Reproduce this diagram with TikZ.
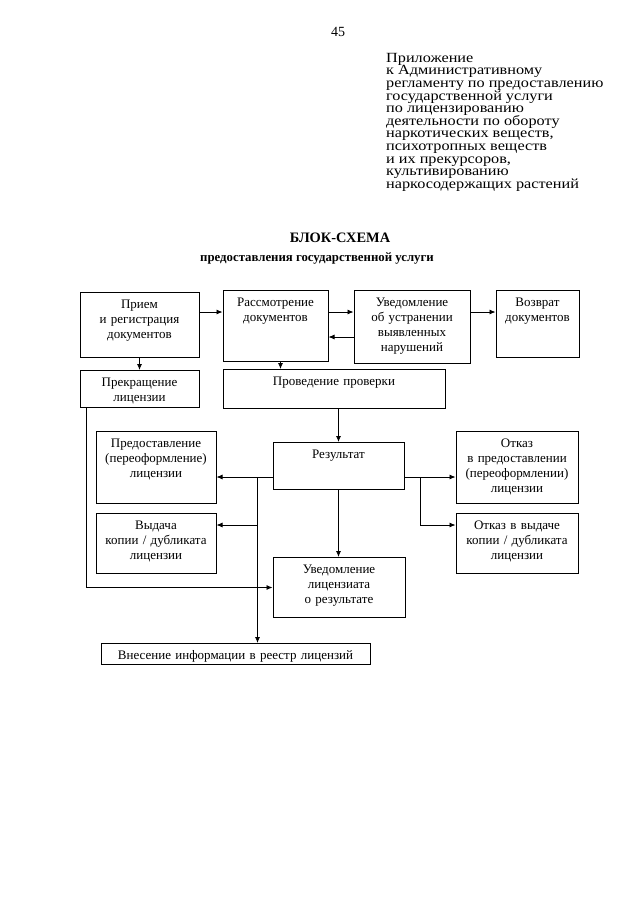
\documentclass[tikz,border=0pt]{standalone}
\usepackage{fontspec}
\setmainfont{Liberation Serif}
\newfontfamily\appfont[FakeStretch=1.16]{Liberation Serif}
\newcommand{\appsize}{\appfont\fontsize{14}{12.6}\selectfont\lineskiplimit=-20pt\relax}
\usetikzlibrary{arrows.meta}

\begin{document}
\begin{tikzpicture}[x=1pt, y=-1pt,
    blk/.style={draw, line width=1pt, align=center, anchor=north, inner xsep=0pt, inner ysep=3pt,
        text height=12.5pt, font=\fontsize{13}{15.2}\selectfont},
    arr/.style={line width=0.8pt, -{Latex[length=6pt, width=5pt]}}]
    \useasboundingbox (0,0) rectangle (640,905);
    % Page number and heading
    \node[font=\fontsize{14}{14}\selectfont] (pg) at (338,32) {45};
    \node[anchor=north west, align=left, inner sep=0pt, font=\appsize] (app) at (386,53)
        {Приложение\\к Административному\\регламенту по предоставлению\\государственной услуги\\по лицензированию\\деятельности по обороту\\наркотических веществ,\\психотропных веществ\\и их прекурсоров,\\культивированию\\наркосодержащих растений};
    \node[font=\fontsize{14.4}{14}\bfseries\selectfont] (ttl) at (340,238) {БЛОК-СХЕМА};
    \node[font=\fontsize{12.8}{14}\bfseries\selectfont] (sub) at (317,258) {предоставления государственной услуги};
    % First row
    \node[blk, text width=119pt, text depth=46.5pt] (prm) at (139.5,292) {Прием\\и регистрация\\документов};
    \node[blk, text width=105pt, text depth=52.5pt] (rsm) at (275.5,290) {Рассмотрение\\документов};
    \node[blk, text width=116pt, text depth=54.5pt] (uvd) at (412,290) {Уведомление\\об устранении\\выявленных\\нарушений};
    \node[blk, text width=83pt, text depth=48.5pt] (vzv) at (537.5,290) {Возврат\\документов};
    % Second row
    \node[blk, text width=119pt, text depth=18.5pt] (prk) at (139.5,370) {Прекращение\\лицензии};
    \node[blk, text width=222pt, text depth=20.5pt] (prv) at (334,369) {Проведение проверки};
    % Result and its outcomes
    \node[blk, text width=131pt, text depth=28.5pt] (rez) at (338.5,442) {Результат};
    \node[blk, text width=120pt, text depth=53.5pt] (prd) at (156,431) {Предоставление\\(переоформление)\\лицензии};
    \node[blk, text width=120pt, text depth=41.5pt] (vyd) at (156,513) {Выдача\\копии / дубликата\\лицензии};
    \node[blk, text width=122pt, text depth=53.5pt] (otk) at (517,431) {Отказ\\в предоставлении\\(переоформлении)\\лицензии};
    \node[blk, text width=122pt, text depth=41.5pt] (otv) at (517,513) {Отказ в выдаче\\копии / дубликата\\лицензии};
    \node[blk, text width=132pt, text depth=41.5pt] (uvl) at (339,557) {Уведомление\\лицензиата\\о результате};
    \node[blk, text width=269pt, text depth=2.5pt] (vns) at (235.5,643) {Внесение информации в реестр лицензий};
    % Arrows of the first row
    \draw[arr] ([yshift=-20pt]prm.north east) -- ([yshift=-22pt]rsm.north west);
    \draw[arr] ([yshift=-22pt]rsm.north east) -- ([yshift=-22pt]uvd.north west);
    \draw[arr] ([yshift=-47pt]uvd.north west) -- ([yshift=-47pt]rsm.north east);
    \draw[arr] ([yshift=-22pt]uvd.north east) -- ([yshift=-22pt]vzv.north west);
    \draw[arr] (prm.south) -- (prk.north);
    \draw[arr] ([xshift=5pt]rsm.south) -- ([xshift=5pt]rsm.south |- prv.north);
    \draw[arr] (rez.north |- prv.south) -- (rez.north);
    % Branches from the result
    \coordinate (rl) at ([yshift=-35pt]rez.north west);
    \coordinate (rr) at ([yshift=-35pt]rez.north east);
    \coordinate (jl) at ([xshift=-15pt]rl);
    \coordinate (jr) at ([xshift=16pt]rr);
    \draw[arr] (rl) -- (rl -| prd.east);
    \draw[arr] (jl) -- (jl |- vns.north);
    \draw[arr] ([yshift=-12pt]vyd.north east -| jl) -- ([yshift=-12pt]vyd.north east);
    \draw[arr] (rr) -- (rr -| otk.west);
    \draw[arr] (jr) |- ([yshift=-12pt]otv.north west);
    \draw[arr] (rez.south) -- (rez.south |- uvl.north);
    \draw[arr] ([xshift=7pt]prk.south west) |- (uvl.west);
\end{tikzpicture}
\end{document}
